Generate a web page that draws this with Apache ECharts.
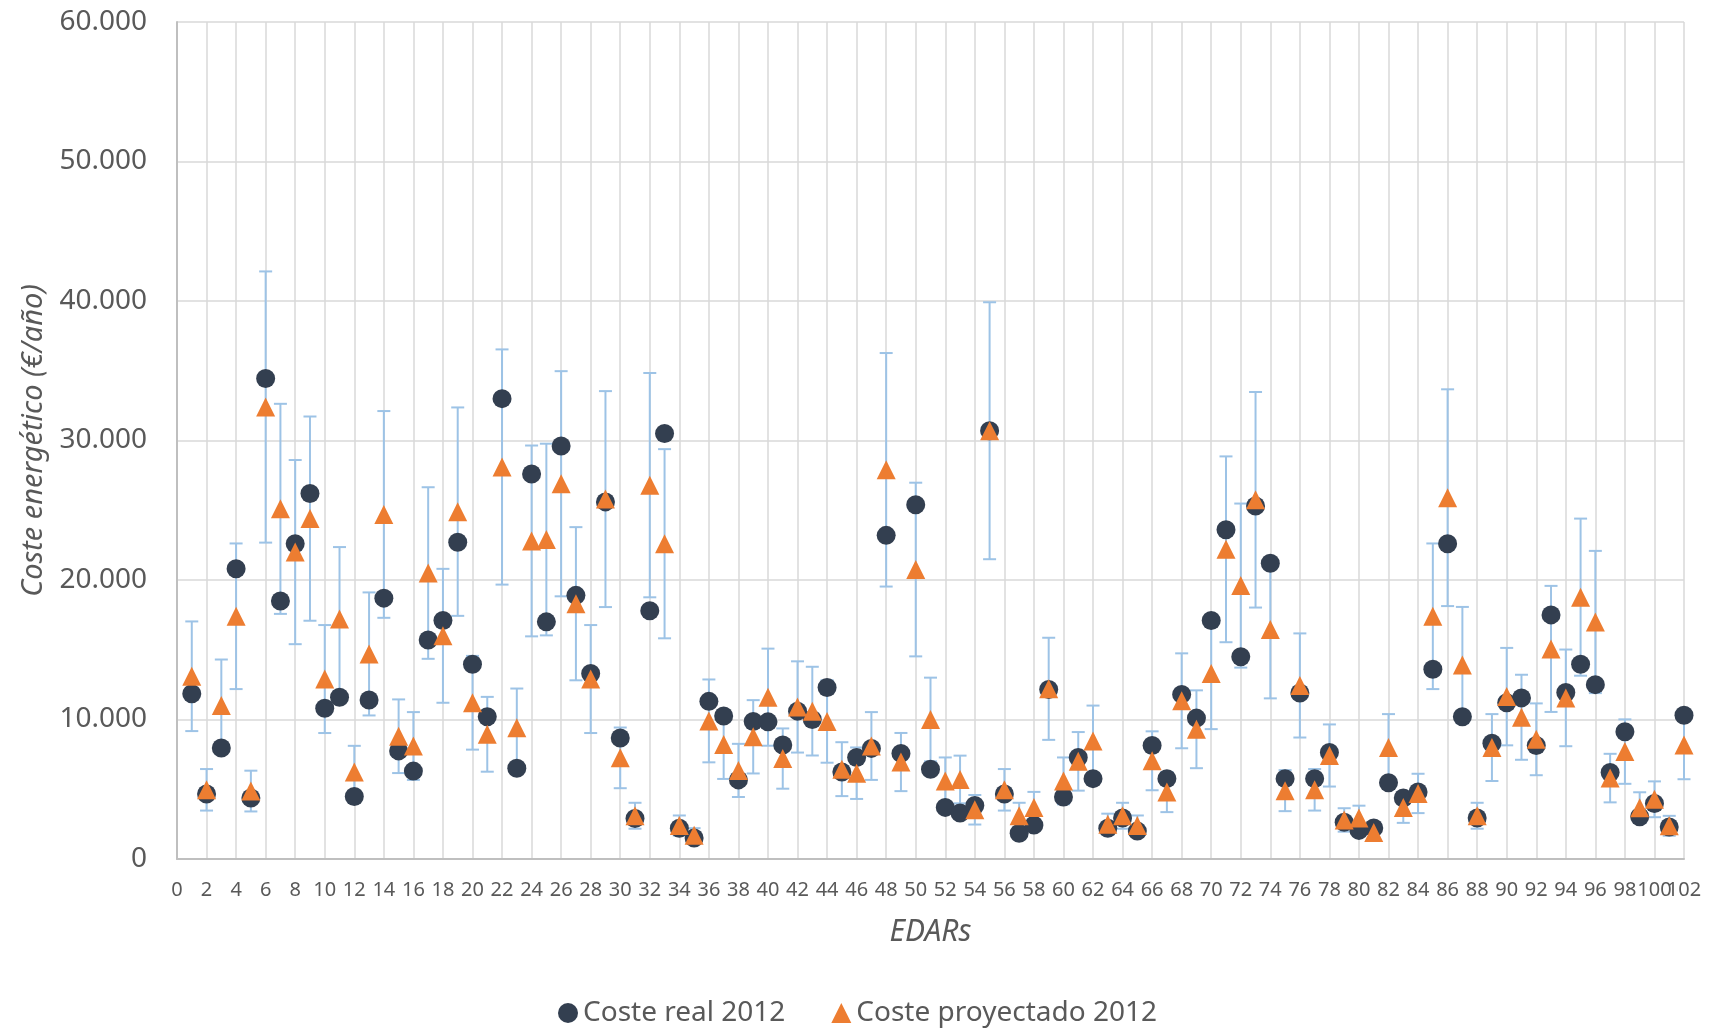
<!DOCTYPE html>
<html>
<head>
<meta charset="utf-8">
<title>Coste energético EDARs</title>
<script src="https://cdn.jsdelivr.net/npm/echarts@6/dist/echarts.min.js"></script>
<style>
    html, body { margin: 0; padding: 0; background: #fff; }
    #main { width: 1715px; height: 1031px; }
</style>
</head>
<body>
<div id="main"></div>
<script>
// EDAR number on the x axis
var edars = [];
for (var n = 1; n <= 102; n++) edars.push(n);

// Coste real 2012 (€/año)
var costeReal = [
    11850, 4660, 7960, 20800, 4370, 34450, 18500, 22600, 26200, 10800,
    11600, 4480, 11400, 18700, 7750, 6300, 15700, 17100, 22700, 13960,
    10200, 33000, 6500, 27600, 17000, 29600, 18900, 13300, 25600, 8670,
    2900, 17800, 30500, 2200, 1500, 11300, 10250, 5670, 9860, 9830,
    8170, 10600, 10000, 12300, 6240, 7280, 7930, 23200, 7570, 25400,
    6440, 3700, 3300, 3830, 30700, 4660, 1840, 2430, 12150, 4450,
    7280, 5760, 2200, 2940, 2000, 8140, 5760, 11800, 10100, 17100,
    23600, 14500, 25300, 21200, 5760, 11900, 5760, 7630, 2640, 2050,
    2230, 5460, 4370, 4800, 13600, 22600, 10200, 2940, 8300, 11200,
    11550, 8140, 17500, 11940, 13960, 12500, 6200, 9120, 3030, 3980,
    2290, 10300
];

// Coste proyectado 2012 (€/año)
var costeProyectado = [
    13100, 4960, 11000, 17400, 4870, 32400, 25100, 22000, 24400, 12900,
    17200, 6240, 14700, 24700, 8800, 8100, 20500, 16000, 24900, 11200,
    8940, 28100, 9400, 22800, 22900, 26900, 18300, 12900, 25800, 7250,
    3100, 26800, 22600, 2400, 1700, 9900, 8200, 6350, 8760, 11600,
    7200, 10900, 10600, 9860, 6440, 6150, 8100, 27900, 6950, 20750,
    10000, 5600, 5700, 3530, 30700, 4960, 3100, 3700, 12200, 5600,
    7000, 8460, 2500, 3100, 2400, 7040, 4800, 11340, 9300, 13300,
    22200, 19600, 25750, 16450, 4900, 12440, 4960, 7420, 2800, 2940,
    1900, 7990, 3700, 4700, 17400, 25900, 13900, 3100, 7990, 11640,
    10160, 8580, 15060, 11550, 18770, 16990, 5800, 7700, 3680, 4280,
    2380, 8170
];

// barras de error en porcentaje sobre el coste proyectado (como en Excel)
var errorPct = 0.30;

var yTicks = [0, 10000, 20000, 30000, 40000, 50000, 60000];

var realData = [], proyData = [], errData = [];
for (var i = 0; i < edars.length; i++) {
    realData.push([edars[i], costeReal[i]]);
    proyData.push([edars[i], costeProyectado[i]]);
    errData.push([edars[i], costeProyectado[i] * (1 - errorPct), costeProyectado[i] * (1 + errorPct)]);
}

var fmtMiles = function (v) {
    return String(v).replace(/\B(?=(\d{3})+(?!\d))/g, '.');
};

var renderError = function (params, api) {
    var lo = api.coord([api.value(0), api.value(1)]);
    var hi = api.coord([api.value(0), api.value(2)]);
    var cap = 6.5;
    var st = { stroke: '#9dc3e6', lineWidth: 2 };
    return {
        type: 'group',
        children: [
            { type: 'line', shape: { x1: lo[0], y1: lo[1], x2: hi[0], y2: hi[1] }, style: st },
            { type: 'line', shape: { x1: lo[0] - cap, y1: lo[1], x2: lo[0] + cap, y2: lo[1] }, style: st },
            { type: 'line', shape: { x1: hi[0] - cap, y1: hi[1], x2: hi[0] + cap, y2: hi[1] }, style: st }
        ]
    };
};

var labelFont = '"Noto Sans", "Open Sans", sans-serif';

option = {
    animation: false,
    textStyle: { fontFamily: labelFont },
    grid: {
        left: 177,
        right: 31,
        top: 22,
        bottom: 172
    },
    legend: {
        left: 'center',
        top: 994,
        itemGap: 46,
        itemWidth: 20,
        itemHeight: 20,
        textStyle: { fontSize: 28, color: '#595959', fontFamily: labelFont },
        data: [
            { name: 'Coste real 2012', icon: 'circle' },
            { name: 'Coste proyectado 2012', icon: 'triangle' }
        ]
    },
    xAxis: [
        {
            type: 'value',
            position: 'bottom',
            min: 0,
            max: 102,
            interval: 2,
            name: 'EDARs',
            nameLocation: 'middle',
            nameGap: 58,
            nameTextStyle: { fontSize: 30, fontStyle: 'italic', color: '#595959' },
            axisLine: { show: true, lineStyle: { color: '#bfbfbf', width: 2 } },
            axisTick: { show: false },
            axisLabel: { fontSize: 20, color: '#595959', margin: 21, hideOverlap: false, showMaxLabel: true },
            splitLine: { show: true, lineStyle: { color: '#d9d9d9', width: 1.5 } }
        },
        {
            // solo para que el "100" se vea pegado al "102" como en el original
            type: 'value',
            position: 'bottom',
            min: 0,
            max: 102,
            interval: 2,
            axisLine: { show: false },
            axisTick: { show: false },
            splitLine: { show: false },
            axisLabel: {
                fontSize: 20, color: '#595959', margin: 21, hideOverlap: false,
                showMinLabel: false, showMaxLabel: false,
                formatter: function (v) { return v === 100 ? '100' : ''; }
            }
        }
    ],
    yAxis: {
        type: 'value',
        min: yTicks[0],
        max: yTicks[yTicks.length - 1],
        interval: 10000,
        name: 'Coste energético (€/año)',
        nameLocation: 'middle',
        nameGap: 127,
        nameTextStyle: { fontSize: 29, fontStyle: 'italic', color: '#595959' },
        axisLine: { show: true, lineStyle: { color: '#bfbfbf', width: 2 } },
        axisTick: { show: false },
        axisLabel: { fontSize: 28, color: '#595959', margin: 30, formatter: fmtMiles },
        splitLine: { show: true, lineStyle: { color: '#d9d9d9', width: 1.5 } }
    },
    series: [
        {
            name: 'error',
            type: 'custom',
            renderItem: renderError,
            encode: { x: 0, y: [1, 2] },
            data: errData,
            silent: true,
            z: 1
        },
        {
            name: 'Coste real 2012',
            type: 'scatter',
            symbol: 'circle',
            symbolSize: 19,
            itemStyle: { color: '#333f50', opacity: 1 },
            data: realData,
            z: 2
        },
        {
            name: 'Coste proyectado 2012',
            type: 'scatter',
            symbol: 'triangle',
            symbolSize: 19,
            itemStyle: { color: '#ed7d31', opacity: 1 },
            data: proyData,
            z: 3
        }
    ]
};

var chart = echarts.init(document.getElementById('main'));
chart.setOption(option);
</script>
</body>
</html>
